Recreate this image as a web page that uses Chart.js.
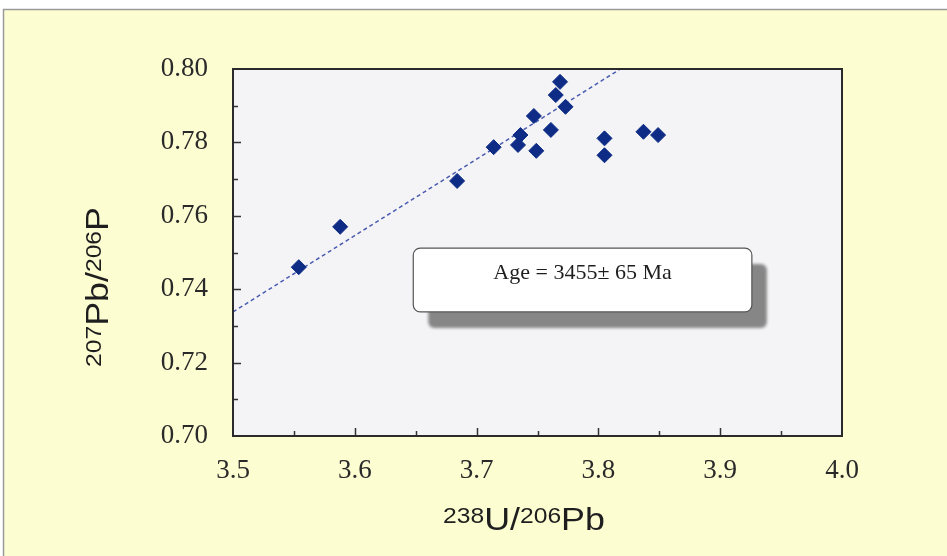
<!DOCTYPE html>
<html><head><meta charset="utf-8">
<script src="https://cdn.jsdelivr.net/npm/chart.js@4"></script>
<style>html,body{margin:0;padding:0;background:#fff;overflow:hidden}#wrap{width:947px;height:556px;position:relative}</style>
</head><body><div id="wrap"><canvas id="c" width="947" height="556"></canvas></div>
<script>
// ---- data ----
const u238Pb206 = [3.554, 3.588, 3.684, 3.714, 3.734, 3.736, 3.747, 3.749, 3.761, 3.765, 3.7685, 3.773, 3.805, 3.805, 3.837, 3.849];
const pb207Pb206 = [0.7460, 0.7570, 0.7695, 0.7787, 0.7793, 0.7820, 0.7872, 0.7777, 0.7834, 0.7929, 0.7965, 0.7897, 0.7811, 0.7765, 0.7829, 0.7820];
const fitX = [3.5, 3.818];
const fitY = [0.7338, 0.800];
const xTickValues = [3.5, 3.6, 3.7, 3.8, 3.9, 4.0];
const yTickValues = [0.70, 0.72, 0.74, 0.76, 0.78, 0.80];
const ageText = 'Age = 3455\u00B1 65 Ma';
// axis titles: [text, isSuperscript]
const xTitleParts = [['238', true], ['U/', false], ['206', true], ['Pb', false]];
const yTitleParts = [['207', true], ['Pb/', false], ['206', true], ['P', false]];

// ---- annotation placement (data units) ----
const ageBox = {xMin: 3.648, xMax: 3.926, yMin: 0.7338, yMax: 0.7512};

const SANS = '"Liberation Sans", Arial, sans-serif';
const SERIF = '"Liberation Serif", "Times New Roman", serif';

const pagePlugin = {
  id: 'page',
  beforeDraw(chart) {
    const {ctx, chartArea: a} = chart;
    ctx.save();
    ctx.fillStyle = '#ffffff';
    ctx.fillRect(0, 0, chart.width, chart.height);
    ctx.fillStyle = '#fdfdd2';
    ctx.fillRect(3, 9, chart.width - 3, chart.height - 9);
    ctx.strokeStyle = '#9a9a9a';
    ctx.lineWidth = 1.5;
    ctx.beginPath();
    ctx.moveTo(3.5, chart.height); ctx.lineTo(3.5, 9.5); ctx.lineTo(chart.width, 9.5);
    ctx.stroke();
    ctx.fillStyle = '#f4f4f7';
    ctx.fillRect(a.left, a.top, a.right - a.left, a.bottom - a.top);
    ctx.restore();
  }
};

function rr(ctx, x, y, w, h, r) {
  ctx.beginPath();
  ctx.moveTo(x + r, y);
  ctx.lineTo(x + w - r, y); ctx.arcTo(x + w, y, x + w, y + r, r);
  ctx.lineTo(x + w, y + h - r); ctx.arcTo(x + w, y + h, x + w - r, y + h, r);
  ctx.lineTo(x + r, y + h); ctx.arcTo(x, y + h, x, y + h - r, r);
  ctx.lineTo(x, y + r); ctx.arcTo(x, y, x + r, y, r);
  ctx.closePath();
}

// draw a title made of normal and superscript runs, centred at (cx, cy) after rotation
function drawRichTitle(ctx, parts, cx, cy, rot, stretch) {
  const big = 'normal 32px ' + SANS, small = 'normal 22px ' + SANS;
  let w = 0;
  const widths = parts.map(([t, sup]) => { ctx.font = sup ? small : big; const m = ctx.measureText(t).width; w += m; return m; });
  ctx.save();
  ctx.translate(cx, cy);
  ctx.rotate(rot);
  ctx.scale(stretch, 1);
  ctx.fillStyle = '#1e1e1e';
  ctx.textBaseline = 'alphabetic';
  ctx.textAlign = 'left';
  let px = -w / 2;
  const base = 11; // baseline below centre
  parts.forEach(([t, sup], i) => {
    ctx.font = sup ? small : big;
    ctx.fillText(t, px, sup ? base - 7 : base);
    px += widths[i];
  });
  ctx.restore();
}

const framePlugin = {
  id: 'frame',
  afterDatasetsDraw(chart) {
    const {ctx, chartArea: a, scales: {x, y}} = chart;
    ctx.save();
    // annotation box
    const l = x.getPixelForValue(ageBox.xMin), r = x.getPixelForValue(ageBox.xMax);
    const t = y.getPixelForValue(ageBox.yMax), b = y.getPixelForValue(ageBox.yMin);
    ctx.filter = 'blur(1.5px)';
    ctx.fillStyle = '#868686';
    rr(ctx, l + 15, t + 16, r - l, b - t, 6);
    ctx.fill();
    ctx.filter = 'none';
    ctx.fillStyle = '#ffffff';
    rr(ctx, l, t, r - l, b - t, 7);
    ctx.fill();
    ctx.strokeStyle = '#555555';
    ctx.lineWidth = 1.2;
    ctx.stroke();
    ctx.fillStyle = '#1e1e1e';
    ctx.font = '22px ' + SERIF;
    ctx.textAlign = 'center';
    ctx.textBaseline = 'middle';
    ctx.fillText(ageText, (l + r) / 2, t + 25);

    // inward tick marks
    ctx.strokeStyle = '#333333';
    ctx.lineWidth = 1.5;
    ctx.beginPath();
    for (let i = 1; i < 10; i++) {
      const v = 3.5 + i * 0.05;
      const px = Math.round(x.getPixelForValue(v)) + 0.5;
      const len = (i % 2 === 0) ? 8 : 5;
      ctx.moveTo(px, a.bottom); ctx.lineTo(px, a.bottom - len);
    }
    for (let i = 1; i < 10; i++) {
      const v = 0.70 + i * 0.01;
      const py = Math.round(y.getPixelForValue(v)) + 0.5;
      const len = (i % 2 === 0) ? 8 : 5;
      ctx.moveTo(a.left, py); ctx.lineTo(a.left + len, py);
    }
    ctx.stroke();
    // plot frame
    ctx.strokeStyle = '#2a2a2a';
    ctx.lineWidth = 2;
    ctx.strokeRect(a.left, a.top, a.right - a.left, a.bottom - a.top);
    ctx.restore();
  },
  afterDraw(chart) {
    const {ctx} = chart;
    drawRichTitle(ctx, xTitleParts, 524, 519, 0, 1.12);
    drawRichTitle(ctx, yTitleParts, 97, 287, -Math.PI / 2, 1.12);
  }
};

const tickFont = {family: SERIF, size: 27};

new Chart(document.getElementById('c'), {
  type: 'scatter',
  data: {
    datasets: [
      {
        label: 'analyses',
        data: u238Pb206.map((v, i) => ({x: v, y: pb207Pb206[i]})),
        pointStyle: 'rectRot',
        pointRadius: 7.5,
        backgroundColor: '#0e2c86',
        borderColor: '#0e2c86',
        borderWidth: 1
      },
      {
        label: 'fit',
        data: fitX.map((v, i) => ({x: v, y: fitY[i]})),
        showLine: true,
        pointRadius: 0,
        borderColor: '#4a5cb0',
        borderWidth: 1.5,
        borderDash: [4, 3],
        fill: false
      }
    ]
  },
  options: {
    responsive: false,
    animation: false,
    devicePixelRatio: 1,
    layout: {padding: {left: 0, right: 105, top: 69, bottom: 0}},
    plugins: {legend: {display: false}, tooltip: {enabled: false}},
    scales: {
      x: {
        type: 'linear', min: 3.5, max: 4.0,
        afterBuildTicks(s) { s.ticks = xTickValues.map(v => ({value: v})); },
        afterFit(s) { s.height = 120; },
        grid: {display: false, drawTicks: false},
        border: {display: false},
        ticks: {font: tickFont, color: '#2a2a2a', padding: 19, maxRotation: 0,
                callback: v => Number(v).toFixed(1)},
        title: {display: false}
      },
      y: {
        type: 'linear', min: 0.70, max: 0.80,
        afterBuildTicks(s) { s.ticks = yTickValues.map(v => ({value: v})); },
        afterFit(s) { s.width = 233; },
        grid: {display: false, drawTicks: false},
        border: {display: false},
        ticks: {font: tickFont, color: '#2a2a2a', padding: 25,
                callback: v => Number(v).toFixed(2)},
        title: {display: false}
      }
    }
  },
  plugins: [pagePlugin, framePlugin]
});
</script></body></html>
